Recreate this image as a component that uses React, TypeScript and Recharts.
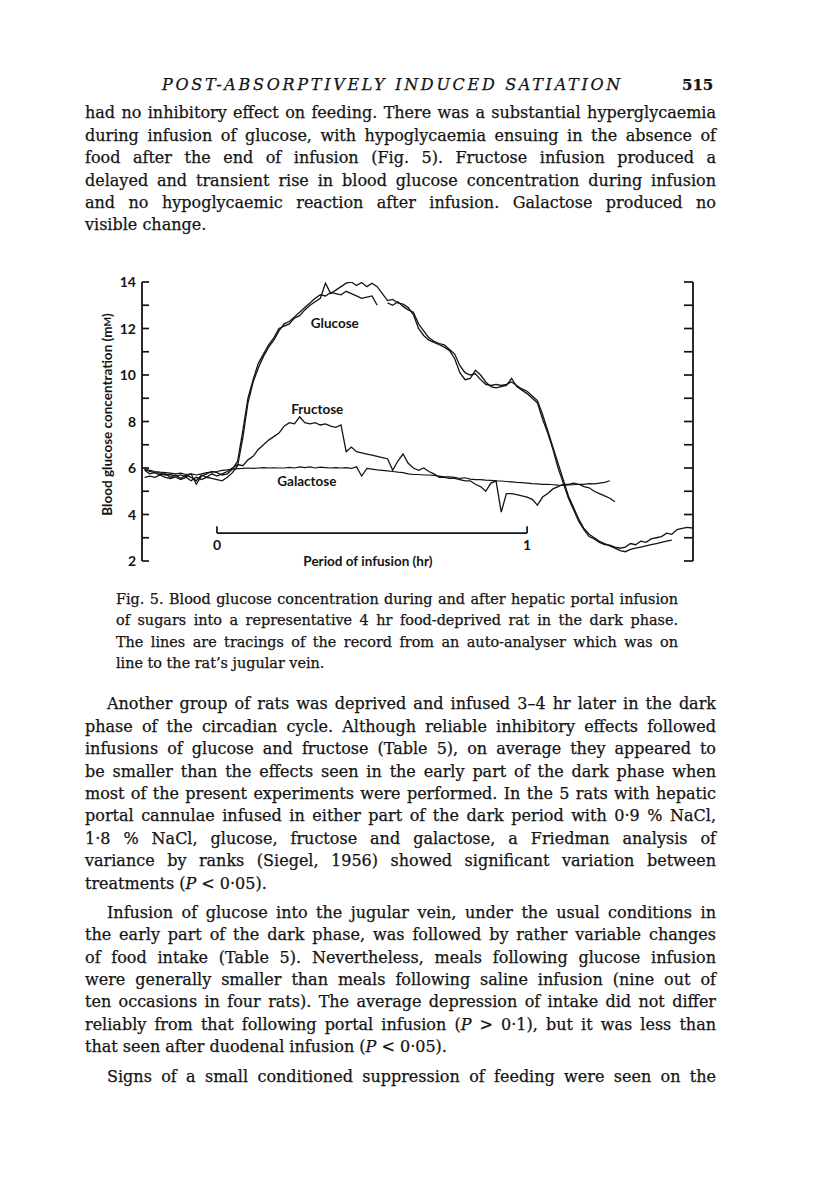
import React from "react";
import { LineChart, Line, XAxis, YAxis, ReferenceLine, ReferenceDot } from "recharts";

// auto-analyser tracings, one reading per minute from -14 min (0 = start of infusion)
const START_MINUTE = -14;

const GLUCOSE_A = [
  5.95, 5.85, 5.8, 5.78, 5.7, 5.72, 5.65, 5.7, 5.62, 5.75,
  5.3, 5.65, 5.75, 5.85, 5.8, 5.7, 5.75, 5.95, 6.3, 7.6,
  9.0, 9.8, 10.5, 10.9, 11.3, 11.6, 12.0, 12.1, 12.2, 12.45,
  12.55, 12.8, 13.0, 13.15, 13.3, 13.95, 13.5, 13.65, 13.8, 13.95,
  14.0, 13.85, 13.98, 13.8, 13.95, 13.8, 13.5, 13.2, 13.25, 13.1,
  13.05, 12.9, 12.6, 12.0, 11.7, 11.5, 11.4, 11.3, 11.2, 11.05,
  10.7, 10.1, 9.8, 9.85, 10.2, 10.0, 9.7, 9.5, 9.45, 9.5,
  9.55, 9.85, 9.5, 9.35, 9.2, 9.0, 8.8, 8.1, 7.5, 6.8,
  6.0, 5.35, 4.7, 4.2, 3.7, 3.35, 3.05, 2.95, 2.8, 2.7,
  2.68, 2.6, 2.55, 2.6, 2.75, 2.7, 2.85, 2.8, 2.95, 3.0,
  3.05, 3.2, 3.15, 3.35, 3.4, 3.45, 3.42,
];

const GLUCOSE_B = [
  5.6, 5.65, 5.6, 5.7, 5.6, 5.55, 5.62, 5.5, 5.6, 5.45,
  5.6, 5.5, 5.6, 5.55, 5.5, 5.45, 5.6, 5.8, 6.1, 7.3,
  8.8, 9.7, 10.3, 10.8, 11.2, 11.5, 11.9, 12.2, 12.3, 12.5,
  12.7, 12.9, 13.1, 13.3, 13.45, 13.4, 13.55, 13.5, 13.45, 13.6,
  13.5, 13.4, 13.3, 13.35, 13.4, 13.0, null, 13.1, 13.0, 13.15,
  12.95, 12.8, 12.7, 12.2, 11.9, 11.6, 11.45, 11.35, 11.3, 11.1,
  10.9, 10.4, 10.1, 10.0, 10.05, 9.8, 9.6, 9.55, 9.6, 9.55,
  9.6, 9.7, 9.55, 9.4, 9.3, 9.1, 8.9, 8.3, 7.6, 6.9,
  6.2, 5.5, 4.8, 4.3, 3.8, 3.4, 3.15, 3.0, 2.85, 2.75,
  2.65, 2.55, 2.45, 2.4, 2.5, 2.55, 2.6, 2.65, 2.7, 2.75,
  2.8, 2.85, 2.9, null, null, null, null,
];

const FRUCTOSE = [
  5.9, 5.75, 5.8, 5.7, 5.75, 5.6, 5.7, 5.55, 5.7, 5.6,
  5.45, 5.7, 5.6, 5.75, 5.65, 5.75, 5.85, 6.0, 6.15, 6.1,
  6.35, 6.5, 6.8, 7.0, 7.2, 7.35, 7.5, 7.8, 7.95, 7.9,
  8.2, 7.95, 7.9, 7.95, 7.85, 7.9, 7.8, 7.75, 7.85, 6.7,
  6.9, 6.7, 6.65, 6.6, 6.55, 6.5, 6.45, 6.4, 5.9, 6.3,
  6.6, 6.2, 6.0, 5.9, 6.0, 5.85, 5.75, 5.6, 5.6, 5.55,
  5.55, 5.5, 5.45, 5.45, 5.3, 5.2, 5.0, 5.35, 5.45, 4.1,
  4.9, 4.9, 4.85, 4.8, 4.75, 4.65, 4.4, 4.75, 4.9, 5.1,
  5.2, 5.3, 5.3, 5.35, 5.3, 5.2, 5.15, 5.0, 4.9, 4.8,
  4.7, 4.55, null, null, null, null, null, null, null, null,
  null, null, null, null, null, null, null,
];

const GALACTOSE = [
  5.95, 5.9, 5.85, 5.82, 5.8, 5.78, 5.75, 5.78, 5.72, 5.75,
  5.7, 5.75, 5.8, 5.82, 5.85, 5.9, 5.92, 5.95, 5.97, 5.98,
  6.0, 5.98, 6.0, 6.02, 6.0, 6.01, 6.0, 6.0, 6.03, 6.0,
  6.05, 6.02, 6.05, 6.0, 6.04, 6.02, 6.0, 6.02, 6.0, 6.02,
  5.98, 6.05, 5.65, 5.98, 5.95, 5.92, 5.9, 5.88, 5.85, 5.82,
  5.8, 5.75, 5.72, 5.72, 5.7, 5.7, 5.68, 5.65, 5.62, 5.62,
  5.6, 5.55, 5.58, 5.52, 5.5, 5.5, 5.48, 5.47, 5.45, 5.44,
  5.42, 5.4, 5.38, 5.37, 5.35, 5.33, 5.32, 5.3, 5.3, 5.28,
  5.26, 5.25, 5.27, 5.28, 5.3, 5.3, 5.33, 5.32, 5.35, 5.38,
  5.45, null, null, null, null, null, null, null, null, null,
  null, null, null, null, null, null, null,
];

const MINUTES = GLUCOSE_A.map((_, i) => START_MINUTE + i);

const Y_TICKS = [2, 3, 4, 5, 6, 7, 8, 9, 10, 11, 12, 13, 14];
const BAR_ENDS = [0, 60]; // infusion period, minutes
const BAR_LABELS = ["0", "1"];

const SERIES_NAMES = [
  { text: "Glucose", t: 22.8, v: 12.24 },
  { text: "Fructose", t: 19.4, v: 8.54 },
  { text: "Galactose", t: 17.4, v: 5.44 },
];

const rows = MINUTES.map((t, i) => ({
  t,
  glucoseA: GLUCOSE_A[i],
  glucoseB: GLUCOSE_B[i],
  fructose: FRUCTOSE[i],
  galactose: GALACTOSE[i],
}));

const INK = "#141414";
const SANS = 'Lato, "Open Sans", sans-serif';
const SERIF = '"DejaVu Serif", "Liberation Serif", serif';

const LeftTick = (props: any) => {
  const { x, y, payload } = props;
  return (
    <g>
      <line x1={x + 6} x2={x + 13} y1={y} y2={y} stroke={INK} strokeWidth={1.7} />
      {payload.value % 2 === 0 && (
        <text x={x} y={y} dy="0.36em" textAnchor="end" fontFamily={SANS} fontWeight={700} fontSize={14} fill={INK}>
          {payload.value}
        </text>
      )}
    </g>
  );
};

const RightTick = (props: any) => {
  const { x, y } = props;
  return <line x1={x - 9} x2={x} y1={y} y2={y} stroke={INK} strokeWidth={1.7} />;
};

const YTitle = (props: any) => {
  const vb = props.viewBox ?? { x: 22, y: 20, width: 40, height: 279 };
  const cx = vb.x + 5;
  const cy = vb.y + vb.height / 2 - 7;
  return (
    <text
      x={cx}
      y={cy}
      transform={`rotate(-90, ${cx}, ${cy})`}
      textAnchor="middle"
      dominantBaseline="central"
      fontFamily={SANS}
      fontWeight={700}
      fontSize={13.5}
      fill={INK}
    >
      Blood glucose concentration (m<tspan fontSize={10}>M</tspan>)
    </text>
  );
};

const textAt = (value: string, size: number) => (props: any) => {
  const vb = props.viewBox;
  const cx = vb.x + vb.width / 2;
  const cy = vb.y + vb.height / 2;
  return (
    <text x={cx} y={cy} textAnchor="middle" dominantBaseline="central" fontFamily={SANS} fontWeight={700} fontSize={size} fill={INK}>
      {value}
    </text>
  );
};

function GlucoseChart() {
  return (
    <LineChart width={640} height={320} data={rows} margin={{ top: 20, right: 17, left: 22, bottom: 21 }}>
      <XAxis dataKey="t" type="number" domain={[-14.5, 92.1]} allowDataOverflow hide />
      <YAxis
        yAxisId="left"
        type="number"
        domain={[2, 14]}
        ticks={Y_TICKS}
        interval={0}
        allowDataOverflow
        width={40}
        tickSize={0}
        tickMargin={6}
        tickLine={false}
        axisLine={{ stroke: INK, strokeWidth: 1.8 }}
        tick={LeftTick}
        label={{ content: YTitle }}
      />
      <YAxis
        yAxisId="right"
        orientation="right"
        type="number"
        domain={[2, 14]}
        ticks={Y_TICKS}
        interval={0}
        allowDataOverflow
        width={10}
        tickSize={0}
        tickMargin={0}
        tickLine={false}
        axisLine={{ stroke: INK, strokeWidth: 1.8 }}
        tick={RightTick}
      />

      <Line yAxisId="left" dataKey="galactose" stroke={INK} strokeWidth={1.2} dot={false} type="linear" isAnimationActive={false} />
      <Line yAxisId="left" dataKey="fructose" stroke={INK} strokeWidth={1.3} dot={false} type="linear" isAnimationActive={false} />
      <Line yAxisId="left" dataKey="glucoseB" stroke={INK} strokeWidth={1.3} dot={false} type="linear" isAnimationActive={false} />
      <Line yAxisId="left" dataKey="glucoseA" stroke={INK} strokeWidth={1.3} dot={false} type="linear" isAnimationActive={false} />

      {/* scale bar for the infusion period */}
      <ReferenceLine
        yAxisId="left"
        segment={[{ x: BAR_ENDS[0], y: 3.2 }, { x: BAR_ENDS[1], y: 3.2 }]}
        stroke={INK}
        strokeWidth={1.7}
      />
      {BAR_ENDS.map((m) => (
        <ReferenceLine key={`end-${m}`} yAxisId="left" segment={[{ x: m, y: 3.2 }, { x: m, y: 3.5 }]} stroke={INK} strokeWidth={1.7} />
      ))}
      {BAR_ENDS.map((m, i) => (
        <ReferenceDot
          key={`lab-${m}`}
          yAxisId="left"
          x={m}
          y={2.72}
          r={0.5}
          fill="none"
          stroke="none"
          ifOverflow="visible"
          label={{ content: textAt(BAR_LABELS[i], 14) }}
        />
      ))}
      <ReferenceDot
        yAxisId="left"
        x={29.2}
        y={2.02}
        r={0.5}
        fill="none"
        stroke="none"
        ifOverflow="visible"
        label={{ content: textAt("Period of infusion (hr)", 13.5) }}
      />
      {SERIES_NAMES.map((s) => (
        <ReferenceDot
          key={s.text}
          yAxisId="left"
          x={s.t}
          y={s.v}
          r={0.5}
          fill="none"
          stroke="none"
          ifOverflow="visible"
          label={{ content: textAt(s.text, 13.5) }}
        />
      ))}
    </LineChart>
  );
}

const PARA_1 = [
  "had no inhibitory effect on feeding. There was a substantial hyperglycaemia",
  "during infusion of glucose, with hypoglycaemia ensuing in the absence of",
  "food after the end of infusion (Fig. 5). Fructose infusion produced a",
  "delayed and transient rise in blood glucose concentration during infusion",
  "and no hypoglycaemic reaction after infusion. Galactose produced no",
  "visible change.",
];

const CAPTION = [
  "Fig. 5. Blood glucose concentration during and after hepatic portal infusion",
  "of sugars into a representative 4 hr food-deprived rat in the dark phase.",
  "The lines are tracings of the record from an auto-analyser which was on",
  "line to the rat\u2019s jugular vein.",
];

const PARA_2 = [
  "Another group of rats was deprived and infused 3\u20134 hr later in the dark",
  "phase of the circadian cycle. Although reliable inhibitory effects followed",
  "infusions of glucose and fructose (Table 5), on average they appeared to",
  "be smaller than the effects seen in the early part of the dark phase when",
  "most of the present experiments were performed. In the 5 rats with hepatic",
  "portal cannulae infused in either part of the dark period with 0\u00b79 % NaCl,",
  "1\u00b78 % NaCl, glucose, fructose and galactose, a Friedman analysis of",
  "variance by ranks (Siegel, 1956) showed significant variation between",
  "treatments (P < 0\u00b705).",
];

const PARA_3 = [
  "Infusion of glucose into the jugular vein, under the usual conditions in",
  "the early part of the dark phase, was followed by rather variable changes",
  "of food intake (Table 5). Nevertheless, meals following glucose infusion",
  "were generally smaller than meals following saline infusion (nine out of",
  "ten occasions in four rats). The average depression of intake did not differ",
  "reliably from that following portal infusion (P > 0\u00b71), but it was less than",
  "that seen after duodenal infusion (P < 0\u00b705).",
];

const PARA_4 = ["Signs of a small conditioned suppression of feeding were seen on the"];

function withItalicP(s: string) {
  const parts = s.split("(P ");
  return parts.map((p, i) => (
    <React.Fragment key={i}>
      {i > 0 && (
        <>
          (<i>P</i>{" "}
        </>
      )}
      {p}
    </React.Fragment>
  ));
}

function Lines({
  lines,
  top,
  left,
  width,
  size,
  lh,
  indent = 0,
  justifyLast = false,
}: {
  lines: string[];
  top: number;
  left: number;
  width: number;
  size: number;
  lh: number;
  indent?: number;
  justifyLast?: boolean;
}) {
  return (
    <div style={{ position: "absolute", top, left, width, fontSize: size, lineHeight: `${lh}px` }}>
      {lines.map((s, i) => {
        const plain = i === lines.length - 1 && !justifyLast;
        return (
          <div
            key={i}
            style={{
              height: lh,
              textAlign: plain ? "left" : "justify",
              textAlignLast: plain ? "left" : "justify",
              paddingLeft: i === 0 ? indent : 0,
            }}
          >
            {withItalicP(s)}
          </div>
        );
      })}
    </div>
  );
}

export default function App() {
  return (
    <div
      style={{
        position: "absolute",
        left: 0,
        top: 0,
        width: 816,
        height: 1188,
        background: "#fff",
        color: INK,
        fontFamily: SERIF,
        overflow: "hidden",
        WebkitTextStroke: "0.25px #141414",
      }}
    >
      <div style={{ position: "absolute", top: 74, left: 162, fontSize: 16, lineHeight: "22.4px", fontStyle: "italic", letterSpacing: 2.7 }}>
        POST-ABSORPTIVELY INDUCED SATIATION
      </div>
      <div style={{ position: "absolute", top: 74, left: 682, fontSize: 15, lineHeight: "22.4px", fontWeight: 700 }}>515</div>

      <Lines lines={PARA_1} top={102.4} left={85} width={631} size={16} lh={22.4} />

      <div style={{ position: "absolute", left: 80, top: 262, WebkitTextStroke: "0px" }}>
        <GlucoseChart />
      </div>

      <Lines lines={CAPTION} top={589} left={116} width={562} size={14.4} lh={21.3} />

      <Lines lines={PARA_2} top={693.4} left={85} width={631} size={16} lh={22.4} indent={22} />
      <Lines lines={PARA_3} top={901.8} left={85} width={631} size={16} lh={22.4} indent={22} />
      <Lines lines={PARA_4} top={1065.8} left={85} width={631} size={16} lh={22.4} indent={22} justifyLast />
    </div>
  );
}
